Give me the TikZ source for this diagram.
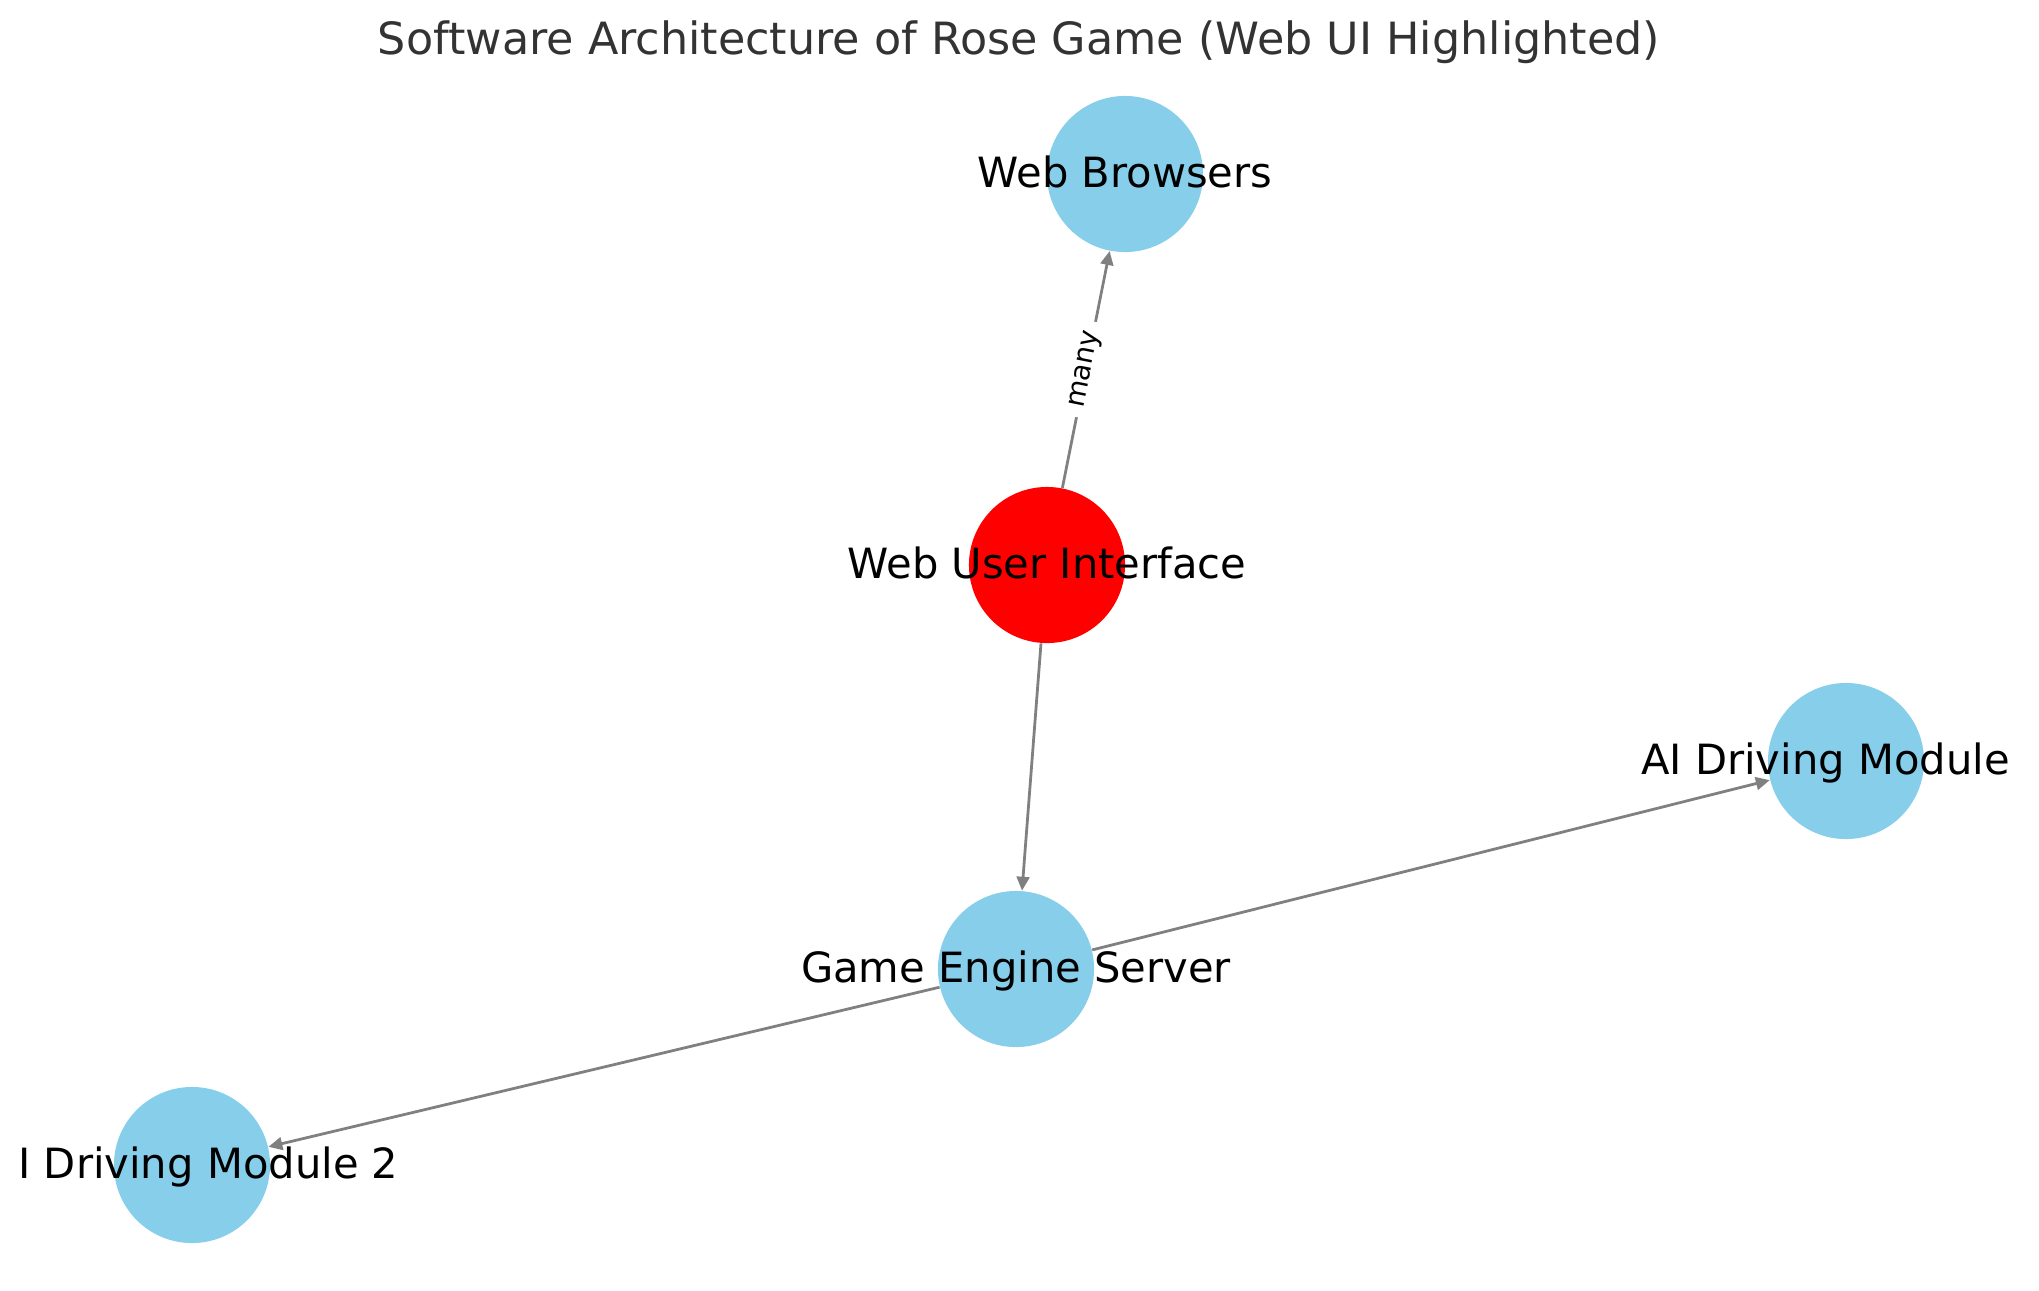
\documentclass[tikz,border=0pt]{standalone}
\usepackage{fontspec}
\setmainfont{DejaVu Sans}
\usetikzlibrary{arrows.meta}
\definecolor{skyblue}{HTML}{87CEEB}
\definecolor{titlegray}{HTML}{333333}
\definecolor{edgegray}{HTML}{808080}

\begin{document}
\begin{tikzpicture}[x=0.36pt,y=-0.36pt,
  module/.style={circle,fill=skyblue,minimum size=56.2pt,inner sep=0pt},
  modlabel/.style={anchor=base,yshift=-4.7pt,font=\fontsize{15}{18}\selectfont},
  link/.style={draw=edgegray,line width=1pt,-{Triangle[length=5pt,width=4.6pt]}},
  linklabel/.style={sloped,fill=white,inner sep=3.4pt,font=\fontsize{10}{12}\selectfont}]
\useasboundingbox (0,0) rectangle (2039,1290);
\node[anchor=base,text=titlegray,font=\fontsize{16}{19}\selectfont] (title) at (1019,54) {Software Architecture of Rose Game (Web UI Highlighted)};
% Modules
\node[module] (wb) at (1125,174) {};
\node[module,fill=red] (wui) at (1047,565) {};
\node[module] (ai) at (1846,761) {};
\node[module] (ges) at (1016,969) {};
\node[module] (ai2) at (192,1165) {};
% Connections
\draw[link] (wui) -- node[linklabel] {many} (wb);
\draw[link] (wui) -- (ges);
\draw[link] (ges) -- (ai);
\draw[link] (ges) -- (ai2);
% Module names
\foreach \n/\lab/\dx in {wb/Web Browsers/0pt, wui/Web User Interface/0pt, ges/Game Engine Server/0pt, ai/AI Driving Module/-7.4pt, ai2/I Driving Module 2/5.9pt} {
  \node[modlabel,xshift=\dx] (\n-lab) at (\n) {\lab};
}
\end{tikzpicture}
\end{document}
